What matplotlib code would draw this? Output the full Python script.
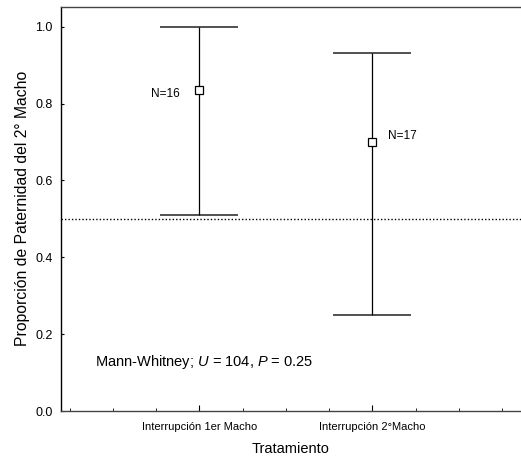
import numpy as np
import matplotlib.pyplot as plt
from matplotlib.ticker import FixedLocator

grupos = ['Interrupción 1er Macho', 'Interrupción 2°Macho']
pos = np.array([1, 2])
media = np.array([0.835, 0.70])
sup = np.array([1.0, 0.932])
inf = np.array([0.51, 0.249])
n_txt = ['N=16', 'N=17']

plt.rcParams['font.family'] = ['Liberation Sans', 'DejaVu Sans']
plt.rcParams['mathtext.fontset'] = 'custom'
plt.rcParams['mathtext.rm'] = 'Liberation Sans'
plt.rcParams['mathtext.it'] = 'Liberation Sans:italic'

fig = plt.figure(figsize=(5.21, 4.63), dpi=100)
ax = fig.add_axes([0.117, 0.1123, 0.883, 0.8732])

yerr = np.vstack([media - inf, sup - media])
ax.errorbar(pos, media, yerr=yerr, fmt='s', color='black', ecolor='black',
            mfc='white', mec='black', ms=5.5, mew=0.9, elinewidth=0.9,
            capsize=0, zorder=3)
# caps drawn wide like the original
for x, a, b in zip(pos, inf, sup):
    ax.hlines([a, b], x - 0.225, x + 0.225, color='#222222', lw=1.1, zorder=2)

ax.axhline(0.5, color='black', ls=(0, (1, 1.5)), lw=1.0, zorder=1)

ax.text(0.885, 0.825, n_txt[0], ha='right', va='center', fontsize=8.5)
ax.text(2.089, 0.715, n_txt[1], ha='left', va='center', fontsize=8.5)

ax.text(0.395, 0.128, 'Mann-Whitney; $\\mathit{U}$ = 104, $\\mathit{P}$ = 0.25',
        fontsize=10.5, va='center')

ax.set_xlim(0.2, 2.86)
ax.set_ylim(0, 1.052)
ax.set_yticks([0.0, 0.2, 0.4, 0.6, 0.8, 1.0])
ax.set_yticklabels(['0.0', '0.2', '0.4', '0.6', '0.8', '1.0'], fontsize=9)
ax.tick_params(axis='y', direction='in', length=2, pad=6)
ax.set_xticks(pos)
ax.set_xticklabels(grupos, fontsize=8)
ax.xaxis.set_minor_locator(FixedLocator(np.arange(0.25, 2.8, 0.25)))
ax.tick_params(axis='x', which='major', direction='in', length=4, pad=8)
ax.tick_params(axis='x', which='minor', direction='in', length=2)

ax.spines['right'].set_visible(False)
for s in ['left', 'top', 'bottom']:
    ax.spines[s].set_linewidth(1.0)
ax.spines['top'].set_color('#444444')
ax.spines['bottom'].set_color('#444444')

ax.set_xlabel('Tratamiento', fontsize=10.5, labelpad=7)
ax.set_ylabel('Proporción de Paternidad del 2° Macho', fontsize=11.3, labelpad=4)

fig.savefig('out.png', dpi=100)
